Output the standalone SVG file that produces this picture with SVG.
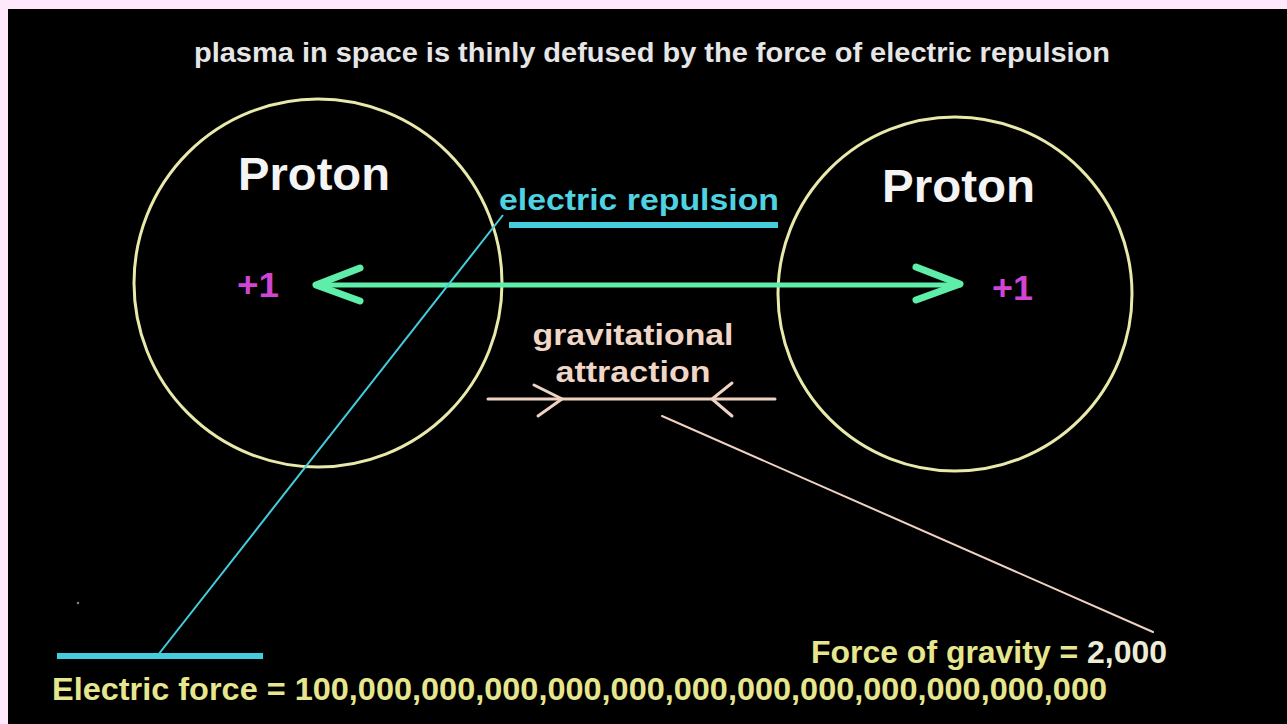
<svg xmlns="http://www.w3.org/2000/svg" width="1287" height="724" viewBox="0 0 1287 724">
<style>
text{font-family:"Liberation Sans",Arial,sans-serif;font-weight:bold}
.title{fill:#e6e6e6;font-size:27px}
.proton{fill:#f4f4f4;font-size:46px}
.charge{fill:#d244d2;font-size:35px}
.er{fill:#4fd3e2;font-size:29px}
.ga{fill:#f0d6c6;font-size:30px;text-anchor:middle}
.yl{fill:#e6e68e;font-size:31px}
.circ{fill:none;stroke:#e9e9ab;stroke-width:3}
.green{stroke:#5eeeaa;fill:none;stroke-linecap:round;stroke-linejoin:round}
.cyan{stroke:#44cddc;fill:none}
.peach{stroke:#f0d2c2;fill:none;stroke-linecap:round}
</style>
<rect x="0" y="0" width="1287" height="724" fill="#fde8fc"/>
<rect x="8" y="9" width="1279" height="715" fill="#000"/>
<text class="title" x="194" y="62" textLength="916" lengthAdjust="spacingAndGlyphs">plasma in space is thinly defused by the force of electric repulsion</text>
<g id="proton-left">
<circle class="circ" cx="318" cy="283" r="184"/>
<text class="proton" x="238" y="190" textLength="152" lengthAdjust="spacingAndGlyphs">Proton</text>
<text class="charge" x="237" y="297" textLength="42" lengthAdjust="spacingAndGlyphs">+1</text>
</g>
<g id="proton-right">
<circle class="circ" cx="955" cy="294" r="177"/>
<text class="proton" x="882" y="202" textLength="153" lengthAdjust="spacingAndGlyphs">Proton</text>
<text class="charge" x="992" y="300" textLength="41" lengthAdjust="spacingAndGlyphs">+1</text>
</g>
<g id="electric-label">
<text class="er" x="499" y="210" textLength="280" lengthAdjust="spacingAndGlyphs">electric repulsion</text>
</g>
<g id="gravity-label">
<text class="ga" x="633" y="345" textLength="201" lengthAdjust="spacingAndGlyphs">gravitational</text>
<text class="ga" x="633" y="382" textLength="155" lengthAdjust="spacingAndGlyphs">attraction</text>
</g>
<g id="electric-force">
<text class="yl" x="52" y="700" textLength="1055" lengthAdjust="spacingAndGlyphs">Electric force = 100,000,000,000,000,000,000,000,000,000,000,000,000</text>
</g>
<g id="gravity-force">
<text class="yl" x="811" y="663" textLength="356" lengthAdjust="spacingAndGlyphs">Force of gravity = <tspan fill="#ececd8">2,000</tspan></text>
</g>
<g id="connectors">
<line class="green" x1="316" y1="285" x2="960" y2="285" stroke-width="5"/>
<polyline class="green" points="360,268 316,285 360,301" stroke-width="7"/>
<polyline class="green" points="916,267 960,284 916,300" stroke-width="7"/>
<line class="cyan" x1="509" y1="225" x2="778" y2="225" stroke-width="6"/>
<line class="cyan" x1="503" y1="215" x2="158" y2="655" stroke-width="2"/>
<line class="cyan" x1="57" y1="656" x2="263" y2="656" stroke-width="6"/>
<line class="peach" x1="488" y1="399" x2="775" y2="399" stroke-width="3"/>
<polyline class="peach" points="534,385 562,399 538,416" stroke-width="3"/>
<polyline class="peach" points="732,383 712,399 732,416" stroke-width="3"/>
<line class="peach" x1="662" y1="416" x2="1153" y2="632" stroke-width="2"/>
</g>
<circle cx="78" cy="603" r="1.2" fill="#888"/>
</svg>
